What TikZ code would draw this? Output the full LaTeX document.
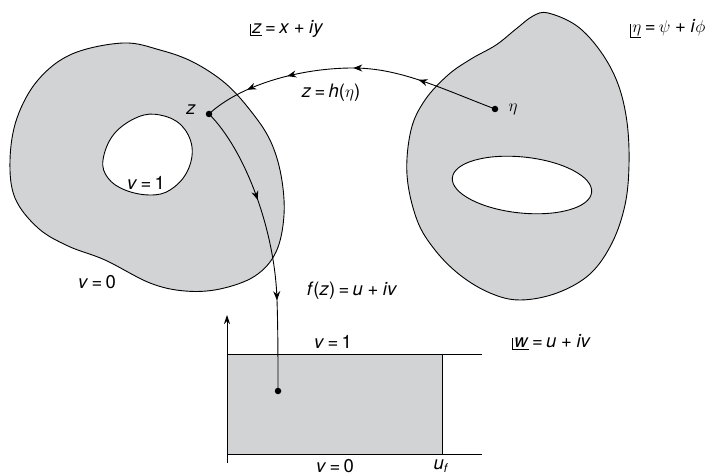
\documentclass[tikz,border=0pt]{standalone}
\usepackage{fontspec}
\setmainfont{TeX Gyre Heros}
\usetikzlibrary{arrows.meta,decorations.markings}
\definecolor{blobgray}{RGB}{209,211,213}
\newcommand\cplab[1]{\setbox0=\hbox{#1}\leavevmode\rlap{\vrule width 0.6pt height 0.5em depth \dimexpr\dp0+1.6pt\relax}\underline{\kern2pt\box0}}
\newcommand\eqs{\kern0.18em=\kern0.18em}
\newcommand\pls{\kern0.25em+\kern0.25em}
\tikzset{
  lab/.style={font=\fontsize{18.5}{21}\selectfont, inner sep=0pt},
  dot/.style={circle, fill=black, inner sep=0pt, minimum size=6.5pt},
  region/.style={draw=black, fill=blobgray, line width=0.9pt},
  hole/.style={draw=black, fill=white, line width=0.9pt},
  midtip/.tip={Stealth[length=9pt,width=7pt]},
}
\begin{document}
\begin{tikzpicture}[x=1pt,y=-1pt,line width=0.9pt]
\useasboundingbox (0,0) rectangle (713,476);
% left region
\draw[region] plot[smooth cycle, tension=0.6] coordinates {
 (10,160) (17,118) (38,80) (72,54) (123,43) (160,50) (193,62) (225,83) (250,110) (270,140)
 (281,175) (284,215) (276,252) (255,276) (220,289) (185,291) (150,283) (105,260) (68,246) (38,228) (15,198)};
\draw[hole] plot[smooth cycle, tension=0.65] coordinates {
 (103,160) (114,134) (138,117) (160,115) (181,125) (192,147) (187,172) (170,190) (150,195) (125,190) (108,178)};
% right region
\draw[region] plot[smooth cycle, tension=0.6] coordinates {
 (548,13) (577,26) (601,52) (618,84) (627,122) (629,165) (625,205) (612,243) (590,274) (557,293) (520,300)
 (490,293) (460,275) (435,250) (417,220) (407,175) (411,130) (425,100) (448,75) (471,59) (496,45) (516,29) (533,16)};
\draw[hole, shift={(522,185)}, rotate=-6] (0,0) ellipse [x radius=70, y radius=28];
% w-plane strip
\fill[blobgray] (227,354) rectangle (442,454);
\coordinate (a0) at (227,463);
\coordinate (a1) at (227,315);
\coordinate (t0) at (227,354);
\coordinate (t1) at (482,354);
\coordinate (b0) at (227,454);
\coordinate (b1) at (482,454);
\coordinate (r0) at (442,354);
\coordinate (r1) at (442,454);
\draw[-{Stealth[length=9pt,width=6pt]}] (a0) -- (a1);
\draw (t0) -- (t1);
\draw (b0) -- (b1);
\draw (r0) -- (r1);
% points
\node[dot] (z) at (209,114) {};
\node[dot] (eta) at (495,109) {};
\node[dot] (w) at (278,391) {};
% mappings
\draw[postaction={decorate}, decoration={markings,
   mark=at position 0.27 with {\arrow{midtip}},
   mark=at position 0.49 with {\arrow{midtip}},
   mark=at position 0.71 with {\arrow{midtip}},
   mark=at position 0.85 with {\arrow{midtip}}}]
  (eta.center) .. controls (440,88) and (400,68) .. (353,68) .. controls (300,68) and (240,85) .. (z.center);
\draw[postaction={decorate}, decoration={markings,
   mark=at position 0.34 with {\arrow{midtip}},
   mark=at position 0.69 with {\arrow{midtip}}}]
  (z.center) .. controls (245,150) and (275,230) .. (277,300) .. controls (278,330) and (278,360) .. (w.center);
% labels
\node[lab, anchor=west] (zpl) at (250,29) {\cplab{\textit{z}}\eqs\textit{x}\pls\textit{iy}};
\node[lab, anchor=west] (etapl) at (630,29) {\cplab{$\eta$}\eqs$\psi$\pls\textit{i}$\phi$};
\node[lab] (hlab) at (331,93) {\textit{z}\eqs\textit{h}($\eta$)};
\node[lab] (zlab) at (191,110) {\textit{z}};
\node[lab] (etalab) at (513,109) {$\eta$};
\node[lab] (v1a) at (146,183) {\textit{v}\eqs 1};
\node[lab] (v0a) at (97,282) {\textit{v}\eqs 0};
\node[lab] (flab) at (352,291) {\textit{f}(\textit{z})\eqs\textit{u}\pls\textit{iv}};
\node[lab] (v1b) at (333,342) {\textit{v}\eqs 1};
\node[lab, anchor=base] (v0b) at (335,472) {\textit{v}\eqs 0};
\node[lab, anchor=north] (uf) at (441,459) {\textit{u}\raisebox{-0.35ex}{\fontsize{12}{14}\selectfont\textit{f}}};
\node[lab, anchor=west] (wpl) at (512,342) {\cplab{\textit{w}}\eqs\textit{u}\pls\textit{iv}};
\end{tikzpicture}
\end{document}
